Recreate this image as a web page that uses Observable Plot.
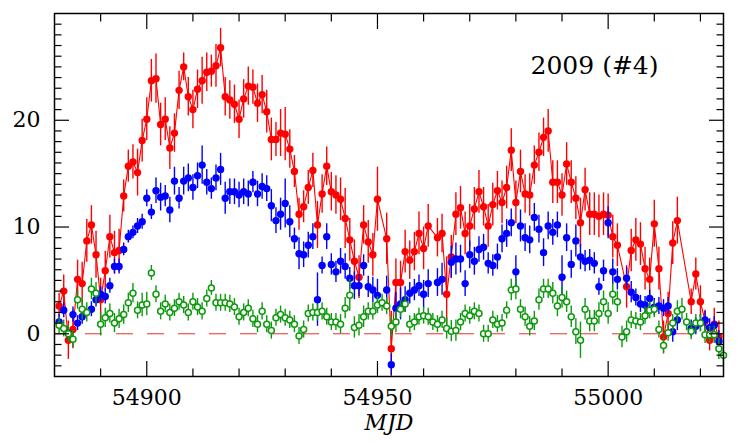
<!DOCTYPE html>
<html><head><meta charset="utf-8">
<script src="https://cdn.jsdelivr.net/npm/d3@7"></script>
<script src="https://cdn.jsdelivr.net/npm/@observablehq/plot@0.6"></script>
<style>body{margin:0;background:#fff} svg{display:block}</style>
</head><body><div id="chart"></div>
<script>
// ---- data ----
const redDay = [
54881,54882,54883,54884,54885,54886,54887,54888,54889,54890,
54891,54892,54893,54894,54895,54896,54897,54898,54899,54900,
54901,54902,54903,54904,54905,54906,54907,54908,54909,54910,
54911,54912,54913,54914,54915,54916,54917,54918,54919,54920,
54921,54922,54923,54924,54925,54926,54927,54928,54929,54930,
54931,54932,54933,54934,54935,54936,54937,54938,54939,54940,
54941,54942,54943,54944,54945,54946,54947,54948,54949,54950,
54952,54953,54954,54955,54956,54957,54958,54959,54960,54961,
54963,54964,54965,54966,54967,54968,54969,54970,54971,54972,
54973,54974,54975,54976,54977,54978,54979,54980,54981,54982,
54983,54984,54985,54986,54987,54988,54989,54990,54991,54992,
54993,54994,54995,54996,54997,54998,54999,55000,55001,55002,
55004,55005,55006,55007,55008,55009,55010,55011,55012,55013,55014,55015,
55018,55019,55020,55021,55022,55023,55024];
const redVal = [
2.6,4.0,-0.6,0.4,5.1,4.7,8.7,10.2,7.4,3.2,
5.9,9.1,7.6,7.8,12.9,15.7,16.1,15.1,18.1,20.1,
23.7,23.9,19.6,20.1,17.4,18.8,22.8,25.0,22.2,21.0,
22.9,23.7,24.5,24.6,25.1,26.8,22.2,21.9,21.5,20.1,
22.0,23.2,23.1,21.6,22.4,20.8,18.2,18.2,18.8,18.7,
17.3,15.2,11.2,11.9,13.7,15.3,10.2,13.1,15.7,13.3,
13.0,12.6,10.8,8.8,6.8,5.3,10.2,8.6,7.4,12.6,
8.9,-1.4,4.8,4.8,7.7,6.9,7.7,9.4,8.0,10.1,
9.0,9.4,3.7,7.2,11.2,11.8,9.4,10.1,11.7,13.3,
11.9,10.1,12.1,13.4,12.3,13.7,17.2,12.3,15.2,13.1,
13.0,15.8,17.0,18.4,19.0,14.2,14.2,13.0,15.9,14.2,
12.7,10.4,13.5,11.2,11.2,11.0,11.2,11.1,9.1,8.3,
4.4,7.8,8.8,8.4,6.1,5.1,10.3,6.1,-0.3,1.9,8.5,10.6,
3.0,5.6,3.0,1.2,-0.6,0.9,-0.3];
const redErr = [
1.2,1.5,1.8,1.8,1.8,2.0,2.0,1.8,2.2,2.0,
1.8,2.0,2.0,2.0,1.5,1.5,1.6,2.2,2.0,2.0,
2.0,2.3,2.0,2.0,2.0,1.8,1.8,1.3,1.8,1.8,
1.8,2.2,1.8,1.5,2.0,1.8,1.8,1.8,1.8,1.8,
1.8,1.8,1.6,1.8,1.8,2.0,2.0,1.6,2.2,2.5,
1.8,1.5,1.5,1.5,1.6,1.6,2.2,1.8,1.8,1.8,
1.8,2.0,2.8,2.0,2.0,2.0,1.8,2.0,2.0,3.0,
2.4,3.5,2.2,2.0,2.0,1.8,1.8,2.0,2.0,2.0,
1.8,1.8,3.5,2.0,2.0,2.0,2.0,2.0,2.0,2.0,
1.8,2.0,2.0,1.8,2.0,2.0,2.0,2.0,2.0,1.8,
2.0,1.8,1.8,1.8,2.0,2.0,2.0,2.0,2.0,2.0,
2.0,2.3,2.0,2.0,2.0,2.0,2.0,2.0,2.0,2.0,
2.0,2.0,2.0,2.0,2.0,2.0,2.2,2.0,1.5,2.0,2.0,2.2,
1.2,1.5,1.5,1.0,1.0,1.5,1.5];

const blueDay = [
54881,54882,54883,54884,54885,54886,
54888,54889,54890,54891,54892,54893,54894,54895,54896,54897,
54898,54899,54900,54901,54902,54903,54904,54905,54906,54907,
54908,54909,54910,54911,54912,54913,54914,54915,54916,54917,
54918,54919,54920,54921,54922,54923,54924,54925,54926,54927,
54928,54929,54930,54931,54932,54933,54934,54935,54936,54937,
54938,54939,54940,54941,54942,54943,54944,54945,54946,54947,
54948,54949,54950,
54952,54953,54954,54955,54956,54957,54958,54959,54960,54961,
54963,54964,
54966,54967,54968,54969,54970,54971,54972,54973,54974,54975,
54976,54977,54978,54979,54980,54981,54982,54983,54984,54985,
54986,54987,54988,54989,54990,54991,54992,54993,54994,54995,
54996,54997,54998,54999,55000,55001,55002,
55004,55005,55006,55007,55008,55009,55010,55011,55012,55013,55014,55015,
55018,55019,55020,55021,55022,55023,55024];
const blueVal = [
1.1,2.2,0.05,1.8,1.0,1.6,
2.3,3.2,3.7,3.5,4.5,6.3,6.3,7.9,9.1,9.5,
10.1,10.5,12.7,11.4,13.4,12.8,12.9,11.6,14.3,12.7,
14.3,14.6,13.7,14.8,15.8,14.2,13.6,14.6,15.4,12.7,
13.3,13.3,13.0,13.3,13.1,14.2,13.1,13.8,13.6,12.0,
10.6,11.2,12.2,10.5,8.9,7.5,7.4,8.3,9.1,3.2,
6.4,9.1,6.5,5.8,6.8,6.3,5.2,4.5,4.5,6.4,
4.4,4.1,3.6,
4.1,-2.9,2.4,2.8,3.2,3.8,4.1,4.5,3.7,4.7,
4.8,5.1,
6.7,7.0,7.0,4.7,7.4,6.8,7.9,8.1,6.6,6.4,
7.2,8.9,9.4,10.4,5.8,10.1,9.0,8.8,10.9,9.8,
7.6,10.1,9.5,10.2,5.3,9.0,6.5,8.7,7.2,6.8,
6.9,6.6,4.4,5.9,10.4,5.8,5.1,
5.2,3.9,3.4,2.8,2.7,3.3,2.5,2.6,2.4,2.6,0.2,1.3,
0.5,0.7,1.0,1.3,0.6,0.8,-0.7];
const blueErr = [
0.7,0.7,0.7,0.7,0.7,0.7,
0.7,0.7,0.7,0.7,0.7,0.7,0.7,0.6,0.6,0.6,
0.7,0.7,0.8,0.7,1.2,1.3,1.0,1.2,1.3,1.0,
1.3,1.3,1.2,1.2,1.8,1.2,1.0,1.2,1.5,1.5,
1.2,1.2,1.2,1.2,1.2,1.0,1.2,1.2,1.2,1.5,
1.2,1.5,2.3,1.5,1.0,1.5,1.2,1.2,1.2,2.5,
0.8,1.2,1.0,1.0,1.2,1.2,1.0,1.3,1.0,1.0,
1.0,1.2,1.5,
1.3,1.0,1.5,1.5,1.2,1.0,1.0,1.0,1.3,1.3,
1.3,1.5,
1.5,1.5,1.3,1.2,1.3,1.3,1.2,1.2,1.0,1.0,
1.2,1.3,1.3,1.3,1.5,1.5,1.3,1.3,1.3,1.3,
1.3,1.3,1.2,1.2,2.0,1.3,1.3,1.5,1.2,1.0,
1.0,1.0,0.8,1.0,1.5,1.2,1.0,
1.0,1.0,0.8,0.8,0.8,0.8,0.8,0.8,0.8,0.8,1.0,1.0,
0.8,0.8,0.8,0.8,0.8,0.8,1.0];

const greenDay = [
54881,54882,54883,54884,54885,54886,54887,54888,54889,54890,
54891,54892,54893,54894,54895,54896,54897,54898,54899,54900,
54901,54902,54903,54904,54905,54906,54907,54908,54909,54910,
54911,54912,54913,54914,54915,54916,54917,54918,54919,54920,
54921,54922,54923,54924,54925,54926,54927,54928,54929,54930,
54931,54932,54933,54934,54935,54936,54937,54938,54939,54940,
54941,54942,54943,54944,54945,54946,54947,54948,54949,54950,
54951,54952,54953,54954,54955,54956,54957,54958,54959,54960,
54961,54962,54963,54964,54965,54966,54967,54968,54969,54970,
54971,54972,54973,54974,54975,54976,54977,54978,54979,54980,
54981,54982,54983,54984,54985,54986,54987,54988,54989,54990,
54991,54992,54993,54994,54995,54996,54997,54998,54999,55000,
55001,55002,55003,55004,55005,55006,55007,55008,55009,55010,
55011,55012,55013,55014,55015,55016,55017,55018,55019,55020,
55021,55022,55023,55024,55025];
const greenVal = [
0.8,0.5,0.0,-0.5,3.2,2.3,2.0,4.2,3.8,0.9,
1.5,1.9,1.0,1.4,1.8,2.9,3.8,2.2,2.7,2.8,
5.7,3.7,2.1,2.8,2.0,2.4,3.0,2.7,2.0,3.0,
2.5,2.1,3.3,4.3,2.9,2.9,2.9,2.8,2.5,1.6,
2.0,2.4,1.4,0.9,2.1,0.9,0.3,1.5,1.8,1.5,
1.3,0.9,-0.2,0.4,1.9,2.0,2.0,2.1,1.6,1.1,
1.1,0.9,2.4,3.6,0.6,0.8,1.6,2.1,2.1,2.7,
2.9,2.6,0.7,1.1,2.3,2.8,0.9,1.1,1.6,1.7,
1.6,1.1,0.9,1.3,0.5,0.25,0.3,1.1,1.9,1.7,
2.1,1.9,0.0,0.0,1.3,0.9,1.0,2.2,4.1,4.2,
2.3,1.6,0.7,1.2,3.2,4.2,4.2,3.8,2.6,3.4,
3.0,1.6,0.2,-0.6,2.3,1.2,1.2,1.9,3.0,1.9,
3.7,3.0,-0.3,0.2,1.3,1.2,1.1,1.7,2.2,2.3,
0.4,-1.1,0.1,1.0,2.1,2.3,1.1,0.25,1.0,1.0,
-0.1,-0.1,-0.1,-1.4,-2.0];
const greenErr = [
0.8,0.8,0.8,0.8,0.9,1.0,0.9,1.0,1.0,1.1,
0.9,0.9,0.9,0.9,0.9,0.9,0.9,0.8,1.1,1.1,
0.7,0.8,0.8,0.8,0.8,0.8,0.8,0.8,0.8,0.8,
0.8,0.8,0.8,0.7,0.8,0.8,0.8,0.8,0.8,0.8,
0.8,0.8,0.8,0.8,0.8,0.8,0.8,0.8,0.8,0.8,
0.8,0.8,0.8,0.8,0.8,0.8,0.8,0.8,0.8,0.8,
0.8,0.9,1.0,1.5,1.0,1.0,1.0,0.8,0.8,0.8,
0.8,0.8,1.0,1.0,0.8,0.8,0.8,0.8,0.8,0.8,
0.8,0.8,0.8,0.8,1.0,1.0,1.0,0.8,0.8,0.8,
0.8,0.8,0.8,0.8,0.8,0.8,0.8,0.8,1.0,1.0,
0.9,0.9,0.9,0.9,1.0,0.9,0.9,1.0,1.0,1.0,
1.0,1.0,1.2,1.7,1.0,1.0,1.0,1.0,1.0,1.0,
1.0,1.0,1.0,1.0,0.8,0.8,0.8,0.8,0.8,0.8,
0.8,0.8,0.8,0.8,1.0,1.0,0.8,0.8,0.8,0.8,
0.8,0.8,0.8,1.0,1.0];

const xMajor = [54900, 54950, 55000];
const xMinor = [54890, 54910, 54920, 54930, 54940, 54960, 54970, 54980, 54990, 55010, 55020];
const yMajor = [0, 10, 20];
const yMinor = [-3,-2,-1,1,2,3,4,5,6,7,8,9,11,12,13,14,15,16,17,18,19,21,22,23,24,25,26,27,28,29];
const title = "2009 (#4)";
const xLabel = "MJD";

// ---- build tables ----
const rows = (day, val, err) => day.map((t, i) => ({t, v: val[i], lo: val[i] - err[i], hi: val[i] + err[i]}));
const red = rows(redDay, redVal, redErr);
const blue = rows(blueDay, blueVal, blueErr);
const green = rows(greenDay, greenVal, greenErr);

const RED = "#ff0000", BLUE = "#0000ff", GREEN = "#0c9a0c";
const FONT = "DejaVu Serif";

const tickAxes = [];
for (const anchor of ["bottom", "top"]) {
  tickAxes.push(Plot.axisX(xMajor, {anchor, tickSize: -15, fill: "none", stroke: "black", strokeWidth: 1.2}));
  tickAxes.push(Plot.axisX(xMinor, {anchor, tickSize: -7.5, fill: "none", stroke: "black", strokeWidth: 1.2}));
}
for (const anchor of ["left", "right"]) {
  tickAxes.push(Plot.axisY(yMajor, {anchor, tickSize: -15, fill: "none", stroke: "black", strokeWidth: 1.2}));
  tickAxes.push(Plot.axisY(yMinor, {anchor, tickSize: -7.5, fill: "none", stroke: "black", strokeWidth: 1.2}));
}

const chart = Plot.plot({
  width: 747, height: 444,
  marginLeft: 54, marginRight: 24, marginTop: 13, marginBottom: 68,
  x: {domain: [54880, 55025], axis: null},
  y: {domain: [-4, 30], axis: null},
  style: {fontFamily: FONT, background: "white", color: "black"},
  marks: [
    Plot.ruleY([0], {stroke: "#e83030", strokeWidth: 1, strokeDasharray: "17 14"}),
    Plot.ruleX(red, {x: "t", y1: "lo", y2: "hi", stroke: RED, strokeWidth: 1.4, clip: true}),
    Plot.line(red, {x: "t", y: "v", stroke: RED, strokeWidth: 1.1}),
    Plot.dot(red, {x: "t", y: "v", r: 3.7, fill: RED}),
    Plot.ruleX(blue, {x: "t", y1: "lo", y2: "hi", stroke: BLUE, strokeWidth: 1.4, clip: true}),
    Plot.dot(blue, {x: "t", y: "v", r: 3.7, fill: BLUE}),
    Plot.ruleX(green, {x: "t", y1: "lo", y2: "hi", stroke: GREEN, strokeWidth: 1.4, clip: true}),
    Plot.dot(green, {x: "t", y: "v", r: 3.0, fill: "white", stroke: GREEN, strokeWidth: 1.5}),
    Plot.frame({stroke: "black", strokeWidth: 1.5}),
    ...tickAxes,
    Plot.axisX(xMajor, {anchor: "bottom", tickSize: 0, tickPadding: 13, fontSize: 22, label: null, tickFormat: d => String(d)}),
    Plot.axisY(yMajor, {anchor: "left", tickSize: 0, tickPadding: 14, fontSize: 22, label: null}),
    Plot.text([xLabel], {frameAnchor: "bottom", lineAnchor: "bottom", dy: 53, fontStyle: "italic", fontSize: 22}),
    Plot.text([title], {frameAnchor: "top-right", textAnchor: "end", lineAnchor: "bottom", dx: -65, dy: 60, fontSize: 25})
  ]
});
document.getElementById("chart").appendChild(chart);
</script>
</body></html>
